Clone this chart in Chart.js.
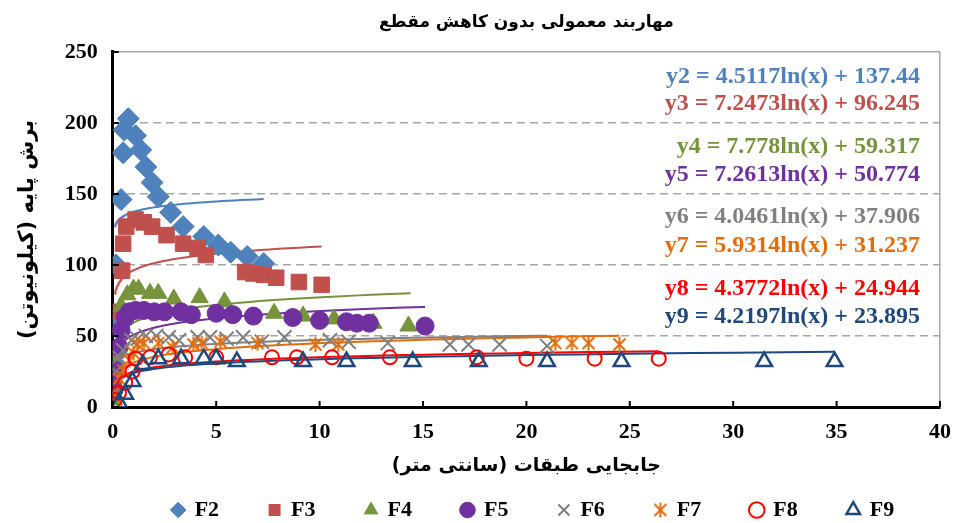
<!DOCTYPE html>
<html>
<head>
<meta charset="utf-8">
<script src="https://cdn.jsdelivr.net/npm/chart.js@4.4.0/dist/chart.umd.min.js"></script>
<style>
  html, body { margin: 0; padding: 0; background: #fff; }
  #wrap { width: 954px; height: 523px; }
</style>
</head>
<body>
<div id="wrap"><canvas id="chart"></canvas></div>
<script>
// series
var seriesNames = ['F2', 'F3', 'F4', 'F5', 'F6', 'F7', 'F8', 'F9'];

var f2x = [0.05, 0.1, 0.15, 0.4, 0.5, 0.55, 0.75, 1.1, 1.35, 1.6, 1.9, 2.2, 2.8, 3.4, 4.4, 5.1, 5.7, 6.5, 7.3];
var f2y = [31, 59, 100, 146, 179, 195, 203, 191, 181, 169, 158, 148, 137, 127, 120, 114, 109, 106, 101];

var f3x = [0.05, 0.08, 0.15, 0.45, 0.5, 0.65, 1.1, 1.5, 1.9, 2.6, 3.4, 4.1, 4.5, 6.4, 6.8, 7.3, 7.9, 9.0, 10.1];
var f3y = [21, 40, 67, 96, 115, 127, 132, 130, 127, 121, 115, 112, 107, 95, 94, 93, 91, 88, 86];

var f4x = [0.05, 0.1, 0.2, 0.4, 0.7, 1.0, 1.25, 1.8, 2.2, 2.95, 4.2, 5.4, 7.8, 9.2, 10.7, 12.6, 14.3];
var f4y = [5, 29, 54, 71, 79, 83, 83, 80, 80, 76, 77, 74, 66, 64, 62, 59, 57];

var f5x = [0.05, 0.08, 0.3, 0.4, 0.6, 0.8, 1.1, 1.5, 2.0, 2.5, 3.3, 3.8, 5.0, 5.8, 6.8, 8.7, 10.0, 11.3, 11.8, 12.4, 15.1];
var f5y = [12, 26, 42, 54, 63, 67, 68, 68, 67, 67, 67, 65, 66, 65, 64, 63, 61, 60, 59, 59, 57];

var f6x = [0.05, 0.15, 0.3, 0.5, 0.9, 1.2, 1.6, 2.1, 2.7, 3.2, 4.1, 4.7, 5.5, 6.3, 7.2, 8.3, 10.5, 11.4, 13.3, 16.3, 17.2, 18.7, 21.0];
var f6y = [10, 25, 35, 40, 47, 48, 50, 50, 49, 47, 49, 49, 48, 49, 46, 49, 47, 46, 45, 44, 44, 44, 43];

var f7x = [0.05, 0.3, 0.5, 0.8, 1.0, 1.2, 1.5, 2.2, 2.9, 3.9, 4.3, 5.2, 7.0, 9.8, 10.9, 21.4, 22.2, 23.0, 24.5];
var f7y = [8, 20, 26, 33, 38, 44, 45, 45, 42, 44, 45, 46, 45, 44, 44, 45, 45, 45, 44];

var f8x = [0.1, 0.3, 0.6, 0.95, 1.1, 1.8, 2.7, 3.5, 5.0, 7.7, 8.9, 10.6, 13.4, 17.6, 20.0, 23.3, 26.4];
var f8y = [5, 10, 17, 25, 34, 35, 37, 35, 35, 35, 35, 35, 35, 35, 34, 34, 34];

var f9x = [0.3, 0.6, 0.95, 1.45, 2.2, 3.3, 4.4, 5.0, 6.0, 9.2, 11.3, 14.5, 17.7, 21.0, 24.6, 31.5, 34.9];
var f9y = [3, 9, 18, 30, 34, 34, 34, 34, 32, 32, 32, 32, 32, 32, 32, 32, 32];

// log trendlines as printed on the chart: y = a ln(x) + b
var trendA = [4.5117, 7.2473, 7.778, 7.2613, 4.0461, 5.9314, 4.3772, 4.2197];
var trendB = [137.44, 96.245, 59.317, 50.774, 37.906, 31.237, 24.944, 23.895];
var trendFrom = [0.1, 0.1, 0.05, 0.05, 0.05, 0.05, 0.1, 0.1];
var trendTo = [7.3, 10.1, 14.4, 15.1, 21.0, 24.5, 26.4, 34.9];

var xTicks = [0, 5, 10, 15, 20, 25, 30, 35, 40];
var yTicks = [0, 50, 100, 150, 200, 250];

var titleText = 'مهاربند معمولی بدون کاهش مقطع';
var xTitle = 'جابجایی طبقات (سانتی متر)';
var yTitle = 'برش پایه (کیلونیوتن)';

var colors = ['#4F81BD', '#C0504D', '#77933C', '#7030A0', '#808080', '#E46C0A', '#FF0000', '#1F497D'];
var allX = [f2x, f3x, f4x, f5x, f6x, f7x, f8x, f9x];
var allY = [f2y, f3y, f4y, f5y, f6y, f7y, f8y, f9y];

function asterisk(size, color) {
  var c = document.createElement('canvas');
  c.width = size; c.height = size;
  var g = c.getContext('2d');
  var h = size / 2, r = h - 1, d = r * 0.8;
  g.strokeStyle = color;
  g.lineWidth = 2;
  g.beginPath();
  g.moveTo(h, h - r); g.lineTo(h, h + r);
  g.moveTo(h - d, h - d); g.lineTo(h + d, h + d);
  g.moveTo(h + d, h - d); g.lineTo(h - d, h + d);
  g.stroke();
  return c;
}

var markerStyle = [
  {pointStyle: 'rectRot', pointRadius: 11, backgroundColor: colors[0], borderColor: colors[0], borderWidth: 1},
  {pointStyle: 'rect', pointRadius: 11, backgroundColor: colors[1], borderColor: colors[1], borderWidth: 1},
  {pointStyle: 'triangle', pointRadius: 10, backgroundColor: colors[2], borderColor: colors[2], borderWidth: 1},
  {pointStyle: 'circle', pointRadius: 9, backgroundColor: colors[3], borderColor: colors[3], borderWidth: 1},
  {pointStyle: 'crossRot', pointRadius: 10, backgroundColor: colors[4], borderColor: colors[4], borderWidth: 2},
  {pointStyle: asterisk(17, colors[5]), pointRadius: 8, backgroundColor: colors[5], borderColor: colors[5], borderWidth: 2},
  {pointStyle: 'circle', pointRadius: 7, backgroundColor: 'rgba(0,0,0,0)', borderColor: colors[6], borderWidth: 2},
  {pointStyle: 'triangle', pointRadius: 9, backgroundColor: 'rgba(0,0,0,0)', borderColor: colors[7], borderWidth: 2.5}
];

var datasets = [];
seriesNames.forEach(function (name, i) {
  var pts = allX[i].map(function (x, k) { return {x: x, y: allY[i][k]}; });
  datasets.push(Object.assign({
    label: name,
    data: pts,
    order: 8 - i,
    pointHoverRadius: markerStyle[i].pointRadius
  }, markerStyle[i]));
});
seriesNames.forEach(function (name, i) {
  var pts = [];
  var n = 80;
  for (var k = 0; k <= n; k++) {
    var x = trendFrom[i] * Math.pow(trendTo[i] / trendFrom[i], k / n);
    pts.push({x: x, y: trendA[i] * Math.log(x) + trendB[i]});
  }
  datasets.push({
    label: 'trend ' + name,
    isTrend: true,
    data: pts,
    showLine: true,
    pointRadius: 0,
    borderColor: colors[i],
    backgroundColor: colors[i],
    borderWidth: 2,
    order: 20 - i
  });
});

var LEGEND_PAD = 50;
var LEGEND_FONT = 22;

var extras = {
  id: 'extras',
  afterLayout: function (chart) {
    // legend keeps a small slot in the layout, then sits lower with wide item spacing
    var lg = chart.legend, a = chart.chartArea;
    lg.left = a.left + 7;
    lg.right = a.right + 7;
    lg.width = lg.right - lg.left;
    lg.top = 510 - LEGEND_PAD - LEGEND_FONT / 2;
    lg.bottom = chart.height;
    lg.height = lg.bottom - lg.top;
  },
  afterDatasetsDraw: function (chart) {
    var ctx = chart.ctx, a = chart.chartArea;
    var xs = chart.scales.x, ys = chart.scales.y;
    ctx.save();
    ctx.strokeStyle = '#000';
    ctx.lineWidth = 2;
    ctx.beginPath();
    xTicks.forEach(function (v) {
      var px = xs.getPixelForValue(v);
      ctx.moveTo(px, a.bottom); ctx.lineTo(px, a.bottom - 6);
    });
    yTicks.forEach(function (v) {
      var py = ys.getPixelForValue(v);
      ctx.moveTo(a.left, py); ctx.lineTo(a.left + 6, py);
    });
    ctx.stroke();

    // trendline equations
    var eqTop = [25, 52, 95, 123, 165, 194, 237, 265];
    ctx.font = 'bold 24px "Liberation Serif"';
    ctx.textAlign = 'right';
    ctx.textBaseline = 'middle';
    seriesNames.forEach(function (name, i) {
      ctx.fillStyle = colors[i];
      ctx.fillText('y' + (i + 2) + ' = ' + trendA[i] + 'ln(x) + ' + trendB[i], a.right - 20, a.top + eqTop[i]);
    });
    ctx.restore();
  }
};

var yTickFont = {family: '"Liberation Serif"', size: 22, weight: 'bold', lineHeight: 1};
var xTickFont = {family: '"Liberation Serif"', size: 22, weight: 'bold', lineHeight: 2};

new Chart(document.getElementById('chart'), {
  type: 'scatter',
  data: {datasets: datasets},
  options: {
    responsive: true,
    maintainAspectRatio: false,
    animation: false,
    layout: {padding: {left: 0, right: 0, top: 0, bottom: 0}},
    plugins: {
      title: {
        display: true,
        text: titleText,
        color: '#000',
        font: {family: '"DejaVu Sans"', size: 17, weight: 'bold'},
        fullSize: false,
        padding: {top: 12, bottom: 19.5}
      },
      legend: {
        position: 'bottom',
        maxHeight: 30,
        labels: {
          usePointStyle: true,
          boxWidth: 11,
          boxHeight: 11,
          padding: LEGEND_PAD,
          color: '#000',
          font: {family: '"Liberation Serif"', size: LEGEND_FONT, weight: 'bold'},
          filter: function (item, data) { return !data.datasets[item.datasetIndex].isTrend; },
          sort: function (a, b) { return a.datasetIndex - b.datasetIndex; }
        }
      },
      tooltip: {enabled: false}
    },
    scales: {
      x: {
        type: 'linear',
        min: 0,
        max: 40,
        ticks: {stepSize: 5, color: '#000', font: xTickFont, padding: 3, maxRotation: 0},
        grid: {
          drawTicks: false,
          lineWidth: 1.5,
          color: function (c) { return c.tick && c.tick.value === 40 ? '#A6A6A6' : 'rgba(0,0,0,0)'; }
        },
        border: {color: '#000', width: 3},
        title: {display: true, text: xTitle, color: '#000',
          font: {family: '"DejaVu Sans"', size: 19, weight: 'bold', lineHeight: 1},
          padding: {top: 0, bottom: 17}}
      },
      y: {
        type: 'linear',
        min: 0,
        max: 250,
        ticks: {stepSize: 50, color: '#000', font: yTickFont, padding: 15},
        grid: {
          drawTicks: false,
          lineWidth: 1.5,
          color: function (c) { return c.tick && c.tick.value === 0 ? 'rgba(0,0,0,0)' : '#A6A6A6'; }
        },
        border: {
          color: '#000',
          width: 3,
          dash: function (c) { return c.tick && c.tick.value === 250 ? [] : [8, 5]; }
        },
        title: {display: true, text: yTitle, color: '#000',
          font: {family: '"DejaVu Sans"', size: 21, weight: 'bold'},
          padding: {top: 15.4, bottom: 9.2}}
      }
    }
  },
  plugins: [extras]
});
</script>
</body>
</html>
